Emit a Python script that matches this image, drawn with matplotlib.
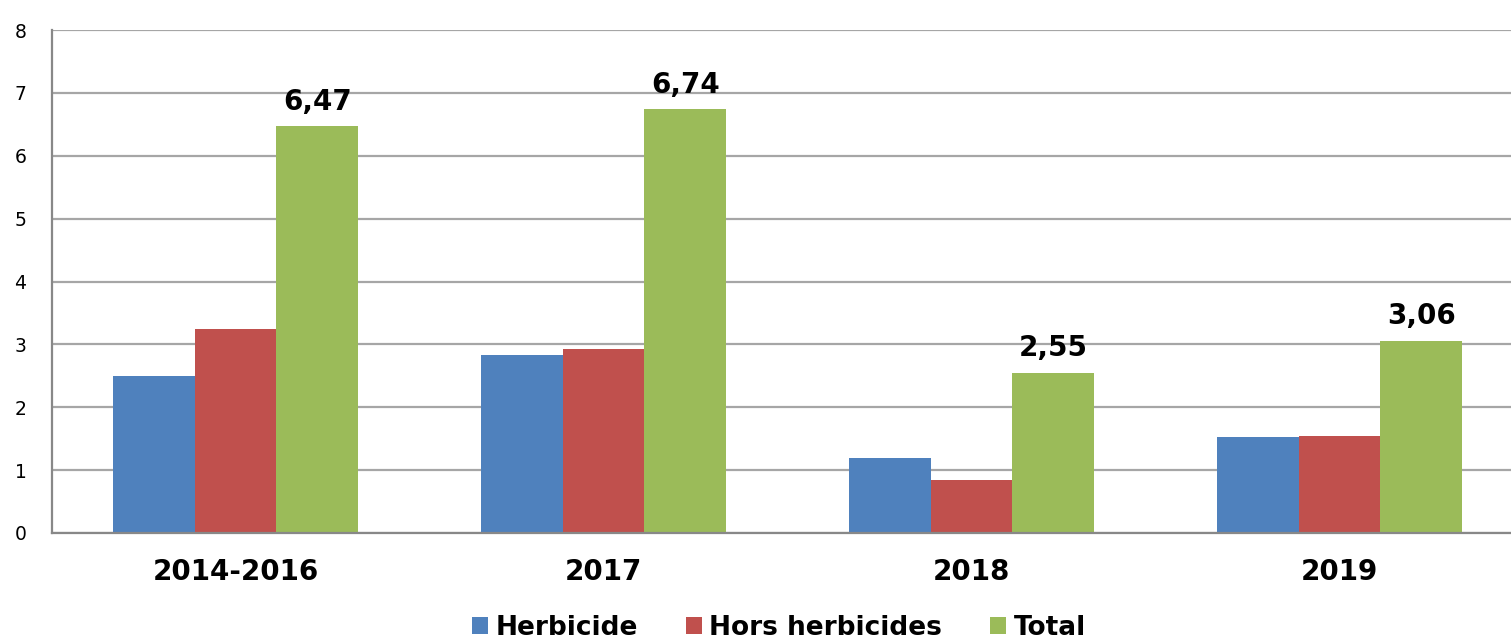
import matplotlib
matplotlib.use("Agg")
import matplotlib.pyplot as plt
import numpy as np
from matplotlib.patches import Patch

categories = ["2014-2016", "2017", "2018", "2019"]
herbicide = [2.50, 2.83, 1.19, 1.53]
hors_herbicides = [3.24, 2.93, 0.84, 1.54]
total = [6.47, 6.74, 2.55, 3.06]
total_labels = ["6,47", "6,74", "2,55", "3,06"]
series_names = ["Herbicide", "Hors herbicides", "Total"]
colors = ["#4F81BD", "#C0504D", "#9BBB59"]
yticks = [0, 1, 2, 3, 4, 5, 6, 7, 8]

plt.rcParams['font.family'] = ['DejaVu Sans']

W, H = 1511, 639
fig = plt.figure(figsize=(W / 100, H / 100), dpi=100)
left = 51.5 / W
bottom = (H - 533) / H
height = (533 - 30) / H
width = 1472 / W
ax = fig.add_axes([left, bottom, width, height])

x = np.arange(len(categories))
bw = 0.222
for i, (vals, c) in enumerate(zip([herbicide, hors_herbicides, total], colors)):
    ax.bar(x + (i - 1) * bw, vals, bw, color=c, zorder=3, label=series_names[i])

for xi, v, lab in zip(x, total, total_labels):
    ax.text(xi + bw, v + 0.17, lab, ha="center", va="bottom",
            fontsize=20, fontweight="bold", color="black")

ax.set_xlim(-0.5, 3.5)
ax.set_ylim(0, 8)
ax.set_yticks(yticks)
ax.set_yticklabels([str(t) for t in yticks], fontsize=13.5)
ax.set_xticks(x)
ax.set_xticklabels(categories, fontsize=20, fontweight="bold")
ax.tick_params(axis="y", length=0, pad=18)
ax.tick_params(axis="x", length=0, pad=18)
ax.yaxis.grid(True, color="#A6A6A6", linewidth=1.6, zorder=0)
for s in ["top", "right"]:
    ax.spines[s].set_visible(False)
for s in ["left", "bottom"]:
    ax.spines[s].set_color("#888888")
    ax.spines[s].set_linewidth(1.6)
ax.spines["bottom"].set_zorder(4)

handles = [Patch(facecolor=c, edgecolor="none") for c in colors]
fig.legend(handles, series_names, loc="center", bbox_to_anchor=(0.5155, (H - 628) / H),
           ncol=3, frameon=False, prop={"size": 19, "weight": "bold"},
           handlelength=0.6, handleheight=0.6, handletextpad=0.3, columnspacing=1.8)

fig.savefig("out.png", dpi=100)
